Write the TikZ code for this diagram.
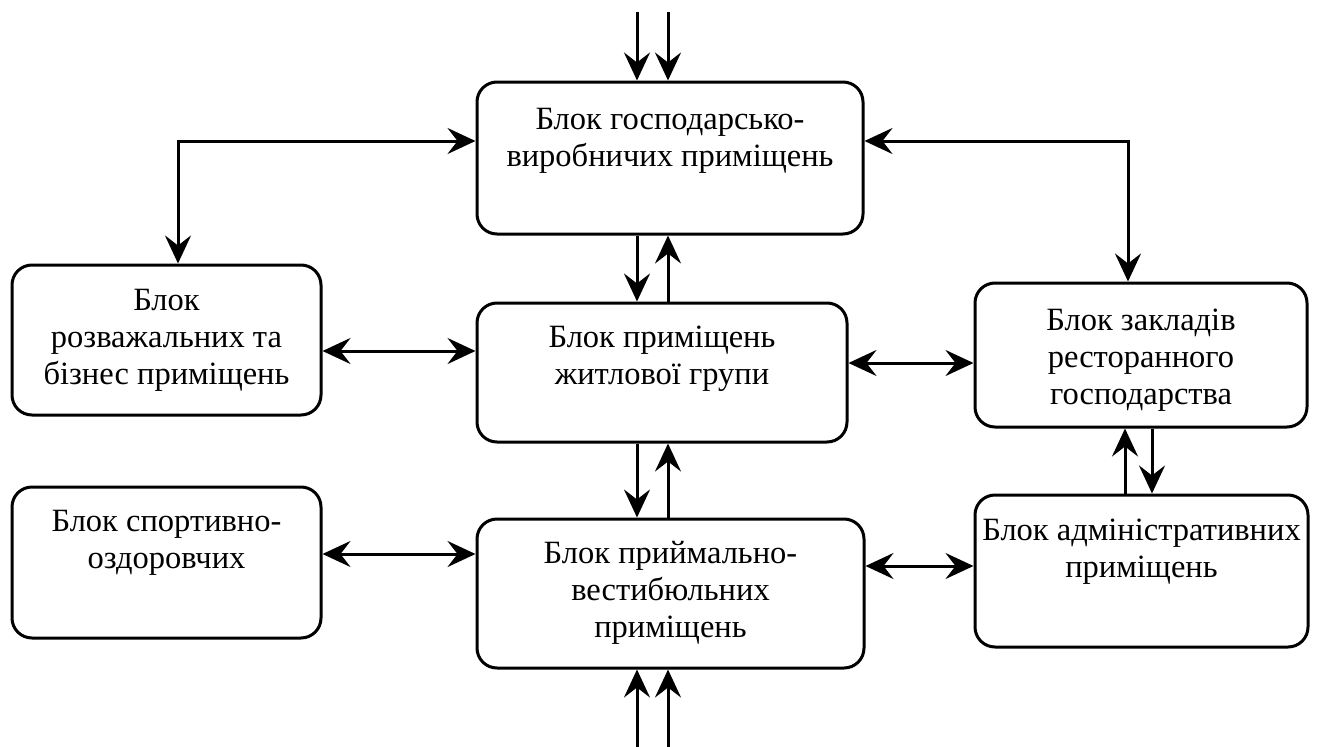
\documentclass[tikz,border=0pt]{standalone}
\usepackage{fontspec}
\setmainfont{Liberation Serif}
\usetikzlibrary{arrows.meta}

\tikzset{
  blok/.style 2 args={draw, line width=3pt, rounded corners=20pt, inner sep=0pt,
    minimum width=#1pt, minimum height=#2pt},
  txt/.style={align=center, inner sep=0pt, font=\fontsize{32.5}{37}\selectfont},
  arr/.style={line width=3pt, -{Stealth[length=28pt, width=26pt, inset=10pt]}},
  arr2/.style={line width=3pt, {Stealth[length=28pt, width=26pt, inset=10pt]}-{Stealth[length=28pt, width=26pt, inset=10pt]}}
}

\begin{document}
\begin{tikzpicture}[x=1pt, y=-1pt]
            \useasboundingbox (0,0) rectangle (1318,747);

            % Define blocks
            \node[blok={386}{152}] (prod) at (670,158) {};
            \node[blok={309}{150}] (ent) at (166.5,340) {};
            \node[blok={370}{139}] (res) at (662,372.5) {};
            \node[blok={332}{144}] (rest) at (1141,355) {};
            \node[blok={309}{151}] (sport) at (166.5,562.5) {};
            \node[blok={387}{149}] (lobby) at (670.5,593.5) {};
            \node[blok={333}{152}] (adm) at (1141.5,571) {};

            % Block texts
            \node[txt] (prod-t) at (670,141) {Блок господарсько-\\виробничих приміщень};
            \node[txt] (ent-t) at (166.5,340) {Блок\\розважальних та\\бізнес приміщень};
            \node[txt] (res-t) at (662,359) {Блок приміщень\\житлової групи};
            \node[txt] (rest-t) at (1141,360) {Блок закладів\\ресторанного\\господарства};
            \node[txt] (sport-t) at (166.5,543) {Блок спортивно-\\оздоровчих};
            \node[txt] (lobby-t) at (670.5,593) {Блок приймально-\\вестибюльних\\приміщень};
            \node[txt] (adm-t) at (1141.5,552) {Блок адміністративних\\приміщень};

            % Free ends and bends
            \coordinate (inL) at (637,12);
            \coordinate (inR) at (668,12);
            \coordinate (outL) at (637,747);
            \coordinate (outR) at (668,747);
            \coordinate (kL) at (178,141);
            \coordinate (kR) at (1128,141);

            % Draw vertical arrows
            \draw[arr] (inL) -- (inL |- prod.north);
            \draw[arr] (inR) -- (inR |- prod.north);
            \draw[arr] (prod.south -| inL) -- (res.north -| inL);
            \draw[arr] (res.north -| inR) -- (prod.south -| inR);
            \draw[arr] (res.south -| inL) -- (lobby.north -| inL);
            \draw[arr] (lobby.north -| inR) -- (res.south -| inR);
            \draw[arr] (outL) -- (outL |- lobby.south);
            \draw[arr] (outR) -- (outR |- lobby.south);
            \draw[arr] (adm.north -| 1125,0) -- (rest.south -| 1125,0);
            \draw[arr] (rest.south -| 1152,0) -- (adm.north -| 1152,0);

            % Draw two-way arrows
            \draw[arr2] (prod.west |- kL) -- (kL) -- (kL |- ent.north);
            \draw[arr2] (prod.east |- kR) -- (kR) -- (kR |- rest.north);
            \draw[arr2] (ent.east |- 0,351) -- (res.west |- 0,351);
            \draw[arr2] (res.east |- 0,363) -- (rest.west |- 0,363);
            \draw[arr2] (sport.east |- 0,554) -- (lobby.west |- 0,554);
            \draw[arr2] (lobby.east |- 0,566) -- (adm.west |- 0,566);
        \end{tikzpicture}
\end{document}
